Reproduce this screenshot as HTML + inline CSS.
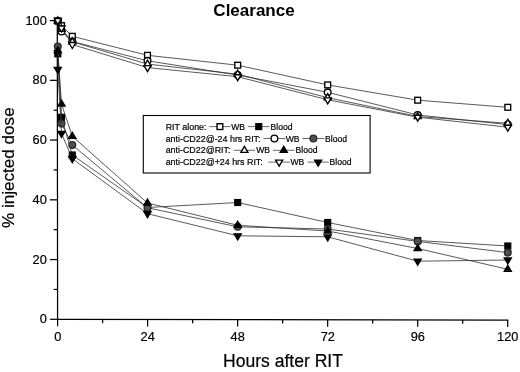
<!DOCTYPE html>
<html><head><meta charset="utf-8"><title>Clearance</title>
<style>
html,body{margin:0;padding:0;background:#fff;}
body{width:520px;height:372px;overflow:hidden;}
svg{display:block;font-family:"Liberation Sans",Arial,sans-serif;}
</style></head><body>
<svg width="520" height="372" viewBox="0 0 520 372">
<rect x="0" y="0" width="520" height="372" fill="#fff"/>

<g stroke="#000" stroke-width="1.25" fill="none">
<line x1="57.3" y1="20.00" x2="57.6" y2="319.90"/>
<line x1="57.0" y1="319.3" x2="508.30" y2="320.05"/>
<line x1="50.10" y1="319.30" x2="57.60" y2="319.30"/>
<line x1="53.77" y1="289.43" x2="57.57" y2="289.43"/>
<line x1="50.04" y1="259.56" x2="57.54" y2="259.56"/>
<line x1="53.71" y1="229.69" x2="57.51" y2="229.69"/>
<line x1="49.98" y1="199.82" x2="57.48" y2="199.82"/>
<line x1="53.65" y1="169.95" x2="57.45" y2="169.95"/>
<line x1="49.92" y1="140.08" x2="57.42" y2="140.08"/>
<line x1="53.59" y1="110.21" x2="57.39" y2="110.21"/>
<line x1="49.86" y1="80.34" x2="57.36" y2="80.34"/>
<line x1="53.53" y1="50.47" x2="57.33" y2="50.47"/>
<line x1="49.80" y1="20.60" x2="57.30" y2="20.60"/>
<line x1="57.60" y1="319.30" x2="57.60" y2="326.20"/>
<line x1="102.61" y1="319.38" x2="102.61" y2="323.18"/>
<line x1="147.62" y1="319.45" x2="147.62" y2="326.35"/>
<line x1="192.63" y1="319.53" x2="192.63" y2="323.33"/>
<line x1="237.64" y1="319.60" x2="237.64" y2="326.50"/>
<line x1="282.65" y1="319.68" x2="282.65" y2="323.48"/>
<line x1="327.66" y1="319.75" x2="327.66" y2="326.65"/>
<line x1="372.67" y1="319.82" x2="372.67" y2="323.62"/>
<line x1="417.68" y1="319.90" x2="417.68" y2="326.80"/>
<line x1="462.69" y1="319.98" x2="462.69" y2="323.78"/>
<line x1="507.70" y1="320.05" x2="507.70" y2="326.95"/>
</g>
<g font-size="12.8" fill="#000" stroke="#000" stroke-width="0.2">
<text x="46.8" y="323.40" text-anchor="end">0</text>
<text x="46.8" y="263.66" text-anchor="end">20</text>
<text x="46.8" y="203.92" text-anchor="end">40</text>
<text x="46.8" y="144.18" text-anchor="end">60</text>
<text x="46.8" y="84.44" text-anchor="end">80</text>
<text x="46.8" y="24.70" text-anchor="end">100</text>
<text x="57.70" y="341.1" text-anchor="middle">0</text>
<text x="147.72" y="341.1" text-anchor="middle">24</text>
<text x="237.74" y="341.1" text-anchor="middle">48</text>
<text x="327.76" y="341.1" text-anchor="middle">72</text>
<text x="417.78" y="341.1" text-anchor="middle">96</text>
<text x="507.80" y="341.1" text-anchor="middle">120</text>
</g>
<text x="254" y="15.7" font-size="17" font-weight="bold" text-anchor="middle" fill="#000">Clearance</text>
<text x="283" y="366.6" font-size="17.55" text-anchor="middle" fill="#000" stroke="#000" stroke-width="0.2">Hours after RIT</text>
<text transform="translate(14.4,167.7) rotate(-90)" font-size="17.1" text-anchor="middle" fill="#000" stroke="#000" stroke-width="0.2">% injected dose</text>
<polyline points="57.80,21.00 61.50,25.60 72.30,36.30 147.50,55.30 237.70,65.20 327.70,84.90 417.70,100.20 507.80,107.30" fill="none" stroke="#303030" stroke-width="0.8"/>
<rect x="54.90" y="18.10" width="5.80" height="5.80" fill="#fff" stroke="#000" stroke-width="1.35"/>
<rect x="58.60" y="22.70" width="5.80" height="5.80" fill="#fff" stroke="#000" stroke-width="1.35"/>
<rect x="69.40" y="33.40" width="5.80" height="5.80" fill="#fff" stroke="#000" stroke-width="1.35"/>
<rect x="144.60" y="52.40" width="5.80" height="5.80" fill="#fff" stroke="#000" stroke-width="1.35"/>
<rect x="234.80" y="62.30" width="5.80" height="5.80" fill="#fff" stroke="#000" stroke-width="1.35"/>
<rect x="324.80" y="82.00" width="5.80" height="5.80" fill="#fff" stroke="#000" stroke-width="1.35"/>
<rect x="414.80" y="97.30" width="5.80" height="5.80" fill="#fff" stroke="#000" stroke-width="1.35"/>
<rect x="504.90" y="104.40" width="5.80" height="5.80" fill="#fff" stroke="#000" stroke-width="1.35"/>
<polyline points="57.80,53.80 61.50,117.30 72.30,155.00 147.50,207.50 237.70,202.50 327.70,222.50 417.70,240.50 507.80,246.00" fill="none" stroke="#303030" stroke-width="0.8"/>
<rect x="54.90" y="50.90" width="5.80" height="5.80" fill="#000" stroke="#000" stroke-width="1.35"/>
<rect x="58.60" y="114.40" width="5.80" height="5.80" fill="#000" stroke="#000" stroke-width="1.35"/>
<rect x="69.40" y="152.10" width="5.80" height="5.80" fill="#000" stroke="#000" stroke-width="1.35"/>
<rect x="144.60" y="204.60" width="5.80" height="5.80" fill="#000" stroke="#000" stroke-width="1.35"/>
<rect x="234.80" y="199.60" width="5.80" height="5.80" fill="#000" stroke="#000" stroke-width="1.35"/>
<rect x="324.80" y="219.60" width="5.80" height="5.80" fill="#000" stroke="#000" stroke-width="1.35"/>
<rect x="414.80" y="237.60" width="5.80" height="5.80" fill="#000" stroke="#000" stroke-width="1.35"/>
<rect x="504.90" y="243.10" width="5.80" height="5.80" fill="#000" stroke="#000" stroke-width="1.35"/>
<polyline points="57.80,21.00 61.50,31.50 72.30,41.50 147.50,60.80 237.70,75.00 327.70,92.30 417.70,115.00 507.80,124.60" fill="none" stroke="#303030" stroke-width="0.8"/>
<circle cx="57.80" cy="21.00" r="3.35" fill="#fff" stroke="#000" stroke-width="1.35"/>
<circle cx="61.50" cy="31.50" r="3.35" fill="#fff" stroke="#000" stroke-width="1.35"/>
<circle cx="72.30" cy="41.50" r="3.35" fill="#fff" stroke="#000" stroke-width="1.35"/>
<circle cx="147.50" cy="60.80" r="3.35" fill="#fff" stroke="#000" stroke-width="1.35"/>
<circle cx="237.70" cy="75.00" r="3.35" fill="#fff" stroke="#000" stroke-width="1.35"/>
<circle cx="327.70" cy="92.30" r="3.35" fill="#fff" stroke="#000" stroke-width="1.35"/>
<circle cx="417.70" cy="115.00" r="3.35" fill="#fff" stroke="#000" stroke-width="1.35"/>
<circle cx="507.80" cy="124.60" r="3.35" fill="#fff" stroke="#000" stroke-width="1.35"/>
<polyline points="57.80,46.40 61.50,123.60 72.30,145.00 147.50,207.80 237.70,226.80 327.70,229.00 417.70,241.40 507.80,252.60" fill="none" stroke="#303030" stroke-width="0.8"/>
<circle cx="57.80" cy="46.40" r="3.35" fill="#505050" stroke="#2a2a2a" stroke-width="1.35"/>
<circle cx="61.50" cy="123.60" r="3.35" fill="#505050" stroke="#2a2a2a" stroke-width="1.35"/>
<circle cx="72.30" cy="145.00" r="3.35" fill="#505050" stroke="#2a2a2a" stroke-width="1.35"/>
<circle cx="147.50" cy="207.80" r="3.35" fill="#505050" stroke="#2a2a2a" stroke-width="1.35"/>
<circle cx="237.70" cy="226.80" r="3.35" fill="#505050" stroke="#2a2a2a" stroke-width="1.35"/>
<circle cx="327.70" cy="229.00" r="3.35" fill="#505050" stroke="#2a2a2a" stroke-width="1.35"/>
<circle cx="417.70" cy="241.40" r="3.35" fill="#505050" stroke="#2a2a2a" stroke-width="1.35"/>
<circle cx="507.80" cy="252.60" r="3.35" fill="#505050" stroke="#2a2a2a" stroke-width="1.35"/>
<polyline points="57.80,20.80 61.50,29.20 72.30,41.80 147.50,64.10 237.70,74.20 327.70,97.70 417.70,116.50 507.80,123.30" fill="none" stroke="#303030" stroke-width="0.8"/>
<polygon points="57.80,16.80 61.35,22.80 54.25,22.80" fill="#fff" stroke="#000" stroke-width="1.35"/>
<polygon points="61.50,25.20 65.05,31.20 57.95,31.20" fill="#fff" stroke="#000" stroke-width="1.35"/>
<polygon points="72.30,37.80 75.85,43.80 68.75,43.80" fill="#fff" stroke="#000" stroke-width="1.35"/>
<polygon points="147.50,60.10 151.05,66.10 143.95,66.10" fill="#fff" stroke="#000" stroke-width="1.35"/>
<polygon points="237.70,70.20 241.25,76.20 234.15,76.20" fill="#fff" stroke="#000" stroke-width="1.35"/>
<polygon points="327.70,93.70 331.25,99.70 324.15,99.70" fill="#fff" stroke="#000" stroke-width="1.35"/>
<polygon points="417.70,112.50 421.25,118.50 414.15,118.50" fill="#fff" stroke="#000" stroke-width="1.35"/>
<polygon points="507.80,119.30 511.35,125.30 504.25,125.30" fill="#fff" stroke="#000" stroke-width="1.35"/>
<polyline points="57.80,50.80 61.50,104.00 72.30,136.30 147.50,203.00 237.70,225.30 327.70,231.00 417.70,248.50 507.80,269.30" fill="none" stroke="#303030" stroke-width="0.8"/>
<polygon points="57.80,46.80 61.35,52.80 54.25,52.80" fill="#000" stroke="#000" stroke-width="1.35"/>
<polygon points="61.50,100.00 65.05,106.00 57.95,106.00" fill="#000" stroke="#000" stroke-width="1.35"/>
<polygon points="72.30,132.30 75.85,138.30 68.75,138.30" fill="#000" stroke="#000" stroke-width="1.35"/>
<polygon points="147.50,199.00 151.05,205.00 143.95,205.00" fill="#000" stroke="#000" stroke-width="1.35"/>
<polygon points="237.70,221.30 241.25,227.30 234.15,227.30" fill="#000" stroke="#000" stroke-width="1.35"/>
<polygon points="327.70,227.00 331.25,233.00 324.15,233.00" fill="#000" stroke="#000" stroke-width="1.35"/>
<polygon points="417.70,244.50 421.25,250.50 414.15,250.50" fill="#000" stroke="#000" stroke-width="1.35"/>
<polygon points="507.80,265.30 511.35,271.30 504.25,271.30" fill="#000" stroke="#000" stroke-width="1.35"/>
<polyline points="57.80,20.50 61.50,28.00 72.30,44.50 147.50,67.60 237.70,76.70 327.70,99.80 417.70,117.20 507.80,127.20" fill="none" stroke="#303030" stroke-width="0.8"/>
<polygon points="57.80,24.50 61.35,18.50 54.25,18.50" fill="#fff" stroke="#000" stroke-width="1.35"/>
<polygon points="61.50,32.00 65.05,26.00 57.95,26.00" fill="#fff" stroke="#000" stroke-width="1.35"/>
<polygon points="72.30,48.50 75.85,42.50 68.75,42.50" fill="#fff" stroke="#000" stroke-width="1.35"/>
<polygon points="147.50,71.60 151.05,65.60 143.95,65.60" fill="#fff" stroke="#000" stroke-width="1.35"/>
<polygon points="237.70,80.70 241.25,74.70 234.15,74.70" fill="#fff" stroke="#000" stroke-width="1.35"/>
<polygon points="327.70,103.80 331.25,97.80 324.15,97.80" fill="#fff" stroke="#000" stroke-width="1.35"/>
<polygon points="417.70,121.20 421.25,115.20 414.15,115.20" fill="#fff" stroke="#000" stroke-width="1.35"/>
<polygon points="507.80,131.20 511.35,125.20 504.25,125.20" fill="#fff" stroke="#000" stroke-width="1.35"/>
<polyline points="57.80,69.30 61.50,133.50 72.30,158.70 147.50,213.70 237.70,235.80 327.70,236.80 417.70,261.20 507.80,260.00" fill="none" stroke="#303030" stroke-width="0.8"/>
<polygon points="57.80,73.30 61.35,67.30 54.25,67.30" fill="#000" stroke="#000" stroke-width="1.35"/>
<polygon points="61.50,137.50 65.05,131.50 57.95,131.50" fill="#000" stroke="#000" stroke-width="1.35"/>
<polygon points="72.30,162.70 75.85,156.70 68.75,156.70" fill="#000" stroke="#000" stroke-width="1.35"/>
<polygon points="147.50,217.70 151.05,211.70 143.95,211.70" fill="#000" stroke="#000" stroke-width="1.35"/>
<polygon points="237.70,239.80 241.25,233.80 234.15,233.80" fill="#000" stroke="#000" stroke-width="1.35"/>
<polygon points="327.70,240.80 331.25,234.80 324.15,234.80" fill="#000" stroke="#000" stroke-width="1.35"/>
<polygon points="417.70,265.20 421.25,259.20 414.15,259.20" fill="#000" stroke="#000" stroke-width="1.35"/>
<polygon points="507.80,264.00 511.35,258.00 504.25,258.00" fill="#000" stroke="#000" stroke-width="1.35"/>
<rect x="143.3" y="115.5" width="226.8" height="57.5" fill="#fff" stroke="#000" stroke-width="1.1"/>
<text x="165.7" y="129.6" font-size="8.9" fill="#000" stroke="#000" stroke-width="0.2">RIT alone:</text><line x1="209.3" y1="126.6" x2="230.5" y2="126.6" stroke="#444" stroke-width="0.8"/><rect x="217.00" y="123.70" width="5.80" height="5.80" fill="#fff" stroke="#000" stroke-width="1.35"/><text x="231.2" y="129.6" font-size="8.6" fill="#000" stroke="#000" stroke-width="0.2">WB</text><line x1="248" y1="126.6" x2="269.5" y2="126.6" stroke="#444" stroke-width="0.8"/><rect x="255.85" y="123.70" width="5.80" height="5.80" fill="#000" stroke="#000" stroke-width="1.35"/><text x="270.5" y="129.6" font-size="8.6" fill="#000" stroke="#000" stroke-width="0.2">Blood</text>
<text x="165.7" y="141.5" font-size="8.9" fill="#000" stroke="#000" stroke-width="0.2">anti-CD22@-24 hrs RIT:</text><line x1="263.4" y1="138.5" x2="285.4" y2="138.5" stroke="#444" stroke-width="0.8"/><circle cx="274.40" cy="138.50" r="3.35" fill="#fff" stroke="#000" stroke-width="1.35"/><text x="285.7" y="141.5" font-size="8.6" fill="#000" stroke="#000" stroke-width="0.2">WB</text><line x1="302.5" y1="138.5" x2="324.3" y2="138.5" stroke="#444" stroke-width="0.8"/><circle cx="313.40" cy="138.50" r="3.35" fill="#505050" stroke="#2a2a2a" stroke-width="1.35"/><text x="325" y="141.5" font-size="8.6" fill="#000" stroke="#000" stroke-width="0.2">Blood</text>
<text x="165.7" y="153.3" font-size="8.9" fill="#000" stroke="#000" stroke-width="0.2">anti-CD22@RIT:</text><line x1="233.8" y1="150.3" x2="255" y2="150.3" stroke="#444" stroke-width="0.8"/><polygon points="244.40,146.35 247.95,152.35 240.85,152.35" fill="#fff" stroke="#000" stroke-width="1.35"/><text x="256.2" y="153.3" font-size="8.6" fill="#000" stroke="#000" stroke-width="0.2">WB</text><line x1="273" y1="150.3" x2="294.5" y2="150.3" stroke="#444" stroke-width="0.8"/><polygon points="283.75,146.35 287.30,152.35 280.20,152.35" fill="#000" stroke="#000" stroke-width="1.35"/><text x="295.5" y="153.3" font-size="8.6" fill="#000" stroke="#000" stroke-width="0.2">Blood</text>
<text x="165.7" y="165.1" font-size="8.9" fill="#000" stroke="#000" stroke-width="0.2">anti-CD22@+24 hrs RIT:</text><line x1="268.4" y1="162.1" x2="289.9" y2="162.1" stroke="#444" stroke-width="0.8"/><polygon points="279.15,166.05 282.70,160.05 275.60,160.05" fill="#fff" stroke="#000" stroke-width="1.35"/><text x="290.5" y="165.1" font-size="8.6" fill="#000" stroke="#000" stroke-width="0.2">WB</text><line x1="307.5" y1="162.1" x2="328.8" y2="162.1" stroke="#444" stroke-width="0.8"/><polygon points="318.15,166.05 321.70,160.05 314.60,160.05" fill="#000" stroke="#000" stroke-width="1.35"/><text x="329.5" y="165.1" font-size="8.6" fill="#000" stroke="#000" stroke-width="0.2">Blood</text>
</svg>
</body></html>
